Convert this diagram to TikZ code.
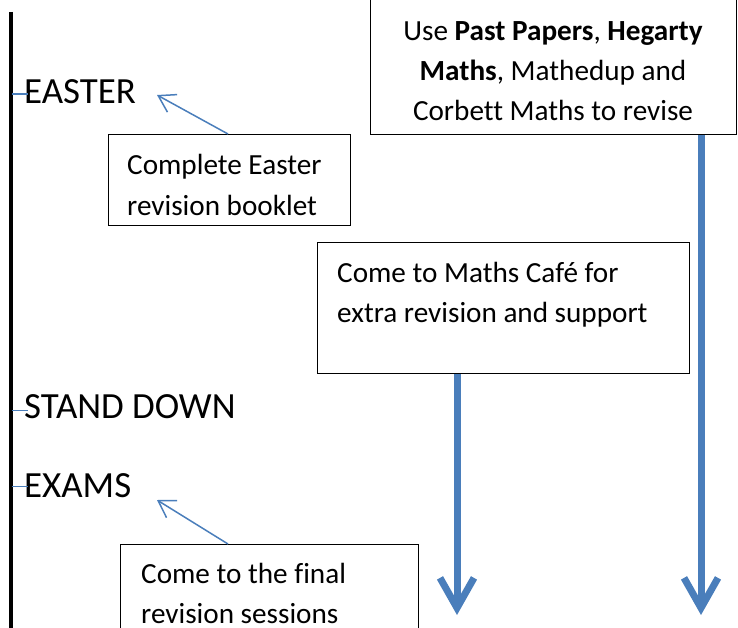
\documentclass[tikz,border=0pt]{standalone}
\usepackage{fontspec}
\setmainfont{Carlito}[Ligatures=CommonOff]
\usetikzlibrary{arrows.meta}
\definecolor{accblue}{RGB}{74,126,187}
\tikzset{
  box/.style={draw=black, line width=1.3pt, fill=white, inner sep=0pt, anchor=north west},
  boxtext/.style={inner sep=0pt, anchor=base west, font=\fontsize{29.2}{40}\selectfont},
  boxtextc/.style={inner sep=0pt, anchor=base, font=\fontsize{29.2}{40}\selectfont},
  period/.style={inner sep=0pt, anchor=base west, font=\fontsize{36.9}{44}\selectfont},
  tick/.style={draw=accblue, line width=1.3pt},
  pointer/.style={draw=accblue, line width=1.5pt, -{Straight Barb[length=16pt,width=20pt]}},
  flow/.style={draw=accblue, line width=7pt, -{Straight Barb[length=30pt,width=34pt]}}
}
\begin{document}
\begin{tikzpicture}[x=1pt,y=-1pt]
\useasboundingbox (0,0) rectangle (738,628);
\clip (0,0) rectangle (738,628);
% timeline
\coordinate (ltop) at (10.5,12);
\coordinate (lbot) at (10.5,640);
\draw[line width=4pt] (ltop) -- (lbot);
% period labels
\node[period] (easter) at (24,103.3) {EASTER};
\node[period] (stand) at (24,418.3) {STAND DOWN};
\node[period] (exams) at (24,497.3) {EXAMS};
\coordinate (t1) at (12,94);
\coordinate (t2) at (12,410.7);
\coordinate (t3) at (12,486.7);
\draw[tick] (t1) -- ([xshift=4pt]easter.west |- t1);
\draw[tick] (t2) -- ([xshift=4pt]stand.west |- t2);
\draw[tick] (t3) -- ([xshift=4pt]exams.west |- t3);
% boxes
\node[box, minimum width=366, minimum height=150] (pbox) at (370,-16) {};
\node[boxtextc] (p1) at (553,41) {Use \textbf{Past Papers}, \textbf{Hegarty}};
\node[boxtextc] (p2) at (553,81) {\textbf{Maths}, Mathedup and};
\node[boxtextc] (p3) at (553,121) {Corbett Maths to revise};

\node[box, minimum width=242, minimum height=91] (ebox) at (108,134) {};
\node[boxtext] (e1) at (127,175) {Complete Easter};
\node[boxtext] (e2) at (127,215) {revision booklet};

\node[box, minimum width=372, minimum height=131] (cbox) at (317,242) {};
\node[boxtext] (c1) at (337,282) {Come to Maths Café for};
\node[boxtext] (c2) at (337,322) {extra revision and support};

\node[box, minimum width=298, minimum height=120] (fbox) at (120,544) {};
\node[boxtext] (f1) at (141,583) {Come to the final};
\node[boxtext] (f2) at (141,623) {revision sessions};
% pointers
\coordinate (eatip) at (157,95);
\coordinate (extip) at (157,500);
\draw[pointer] (ebox.north west -| 228,0) -- (eatip);
\draw[pointer] (fbox.north west -| 228,0) -- (extip);
% flow arrows
\coordinate (cend) at (457,615);
\coordinate (pend) at (701,615);
\draw[flow] (cbox.south west -| cend) -- (cend);
\draw[flow] (pbox.south west -| pend) -- (pend);
\end{tikzpicture}
\end{document}
